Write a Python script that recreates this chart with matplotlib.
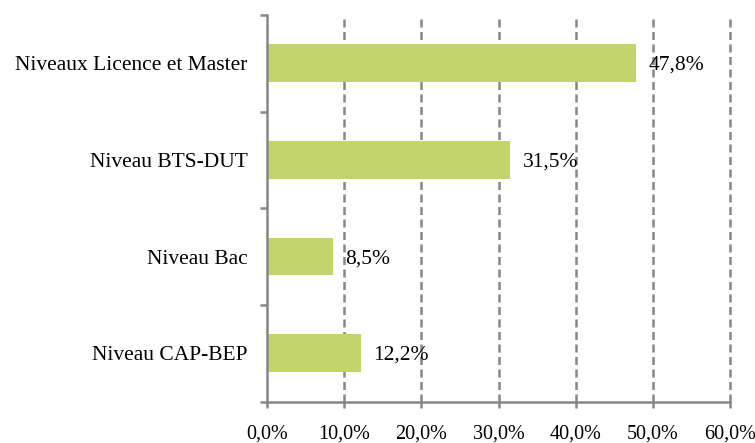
import matplotlib
matplotlib.use("Agg")
import matplotlib.pyplot as plt
from matplotlib.ticker import FixedLocator, NullFormatter

# --- data (bottom to top) ---
categories = ["Niveau CAP-BEP", "Niveau Bac", "Niveau BTS-DUT", "Niveaux Licence et Master"]
values     = [12.2, 8.5, 31.5, 47.8]
xticks     = [0, 10, 20, 30, 40, 50, 60]

BAR_COLOR  = "#C3D56A"
GRAY       = "#878787"
FS         = 15.5

plt.rcParams["font.family"] = ["Liberation Serif", "DejaVu Serif"]

fig = plt.figure(figsize=(7.55, 4.43), dpi=100)
ax = fig.add_axes([267 / 755, 1 - 401.5 / 443, (730 - 267) / 755, (401.5 - 15) / 443])

pos = list(range(len(categories)))
ax.barh(pos, values, height=0.39, color=BAR_COLOR, zorder=3)

for y, v in zip(pos, values):
    ax.annotate(f"{v:.1f}%".replace(".", ","), (v, y), xytext=(9, -1.5),
                textcoords="offset points", va="center", ha="left",
                fontsize=FS, zorder=4)

ax.set_xlim(0, 60)
ax.set_ylim(-0.5, len(categories) - 0.5)

ax.set_xticks(xticks)
ax.set_xticklabels([f"{t:.1f}%".replace(".", ",") for t in xticks], fontsize=14.5)
ax.tick_params(axis="x", length=4, width=1.8, color=GRAY, pad=12.5)

# category labels centred, tick marks at the boundaries
ax.set_yticks(pos)
ax.set_yticklabels(categories, fontsize=FS)
ax.tick_params(axis="y", which="major", length=0, pad=14)
ax.yaxis.set_minor_locator(FixedLocator([p - 0.5 for p in pos] + [len(pos) - 0.5]))
ax.yaxis.set_minor_formatter(NullFormatter())
ax.tick_params(axis="y", which="minor", length=5, width=1.8, color=GRAY)

for x in xticks[1:]:
    ax.axvline(x, color=GRAY, lw=1.8, dashes=(3.2, 1.8), zorder=1, clip_on=False)

for side in ["top", "right"]:
    ax.spines[side].set_visible(False)
for side in ["left", "bottom"]:
    ax.spines[side].set_color(GRAY)
    ax.spines[side].set_linewidth(1.8)
    ax.spines[side].set_zorder(5)

fig.savefig("out.png", dpi=100)
